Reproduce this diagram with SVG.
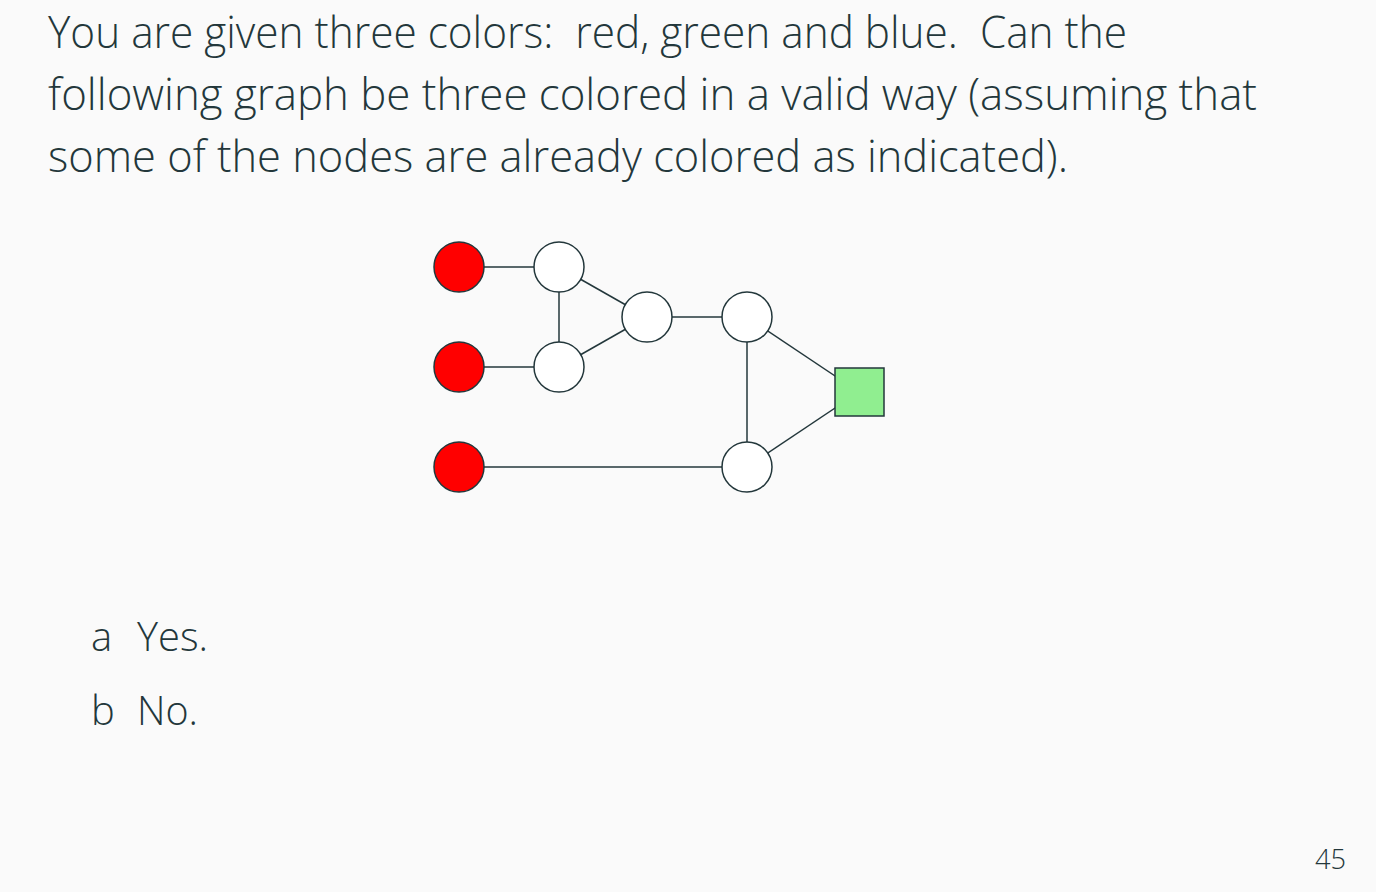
<svg xmlns="http://www.w3.org/2000/svg" width="1376" height="892" viewBox="0 0 1376 892">
<style>
.t{font-family:"Open Sans","Liberation Sans",sans-serif;font-weight:300;fill:#23373b}
.q{font-size:44px}
.e{stroke:#23373b;stroke-width:1.5;fill:none}
.n{stroke:#23373b;stroke-width:1.5}
.red{fill:#ff0000}
.wh{fill:#ffffff}
.gr{fill:#90ee90}
</style>
<rect width="1376" height="892" fill="#fafafa"/>
<text class="t q" x="48" y="48" textLength="1079" lengthAdjust="spacingAndGlyphs" style="white-space:pre">You are given three colors:  red, green and blue.  Can the</text>
<text class="t q" x="48" y="110" textLength="1209" lengthAdjust="spacingAndGlyphs">following graph be three colored in a valid way (assuming that</text>
<text class="t q" x="48" y="172" textLength="1020" lengthAdjust="spacingAndGlyphs">some of the nodes are already colored as indicated).</text>
<g id="edges">
<line class="e" x1="459" y1="267" x2="559" y2="267"/>
<line class="e" x1="459" y1="367" x2="559" y2="367"/>
<line class="e" x1="459" y1="467" x2="747" y2="467"/>
<line class="e" x1="559" y1="267" x2="559" y2="367"/>
<line class="e" x1="559" y1="267" x2="647" y2="317"/>
<line class="e" x1="559" y1="367" x2="647" y2="317"/>
<line class="e" x1="647" y1="317" x2="747" y2="317"/>
<line class="e" x1="747" y1="317" x2="747" y2="467"/>
<line class="e" x1="747" y1="317" x2="859" y2="392"/>
<line class="e" x1="747" y1="467" x2="859" y2="392"/>
</g>
<g id="r1"><circle class="n red" cx="459" cy="267" r="25"/></g>
<g id="r2"><circle class="n red" cx="459" cy="367" r="25"/></g>
<g id="r3"><circle class="n red" cx="459" cy="467" r="25"/></g>
<g id="w1"><circle class="n wh" cx="559" cy="267" r="25"/></g>
<g id="w2"><circle class="n wh" cx="559" cy="367" r="25"/></g>
<g id="w3"><circle class="n wh" cx="647" cy="317" r="25"/></g>
<g id="w4"><circle class="n wh" cx="747" cy="317" r="25"/></g>
<g id="w5"><circle class="n wh" cx="747" cy="467" r="25"/></g>
<g id="g1"><rect class="n gr" x="835" y="368" width="49" height="48"/></g>
<text class="t" x="91" y="651" font-size="40">a</text>
<text class="t" x="137" y="651" font-size="40" textLength="71" lengthAdjust="spacingAndGlyphs">Yes.</text>
<text class="t" x="91" y="725" font-size="40">b</text>
<text class="t" x="137" y="725" font-size="40" textLength="61" lengthAdjust="spacingAndGlyphs">No.</text>
<text class="t" x="1315" y="869" font-size="28" textLength="31" lengthAdjust="spacingAndGlyphs">45</text>
</svg>
